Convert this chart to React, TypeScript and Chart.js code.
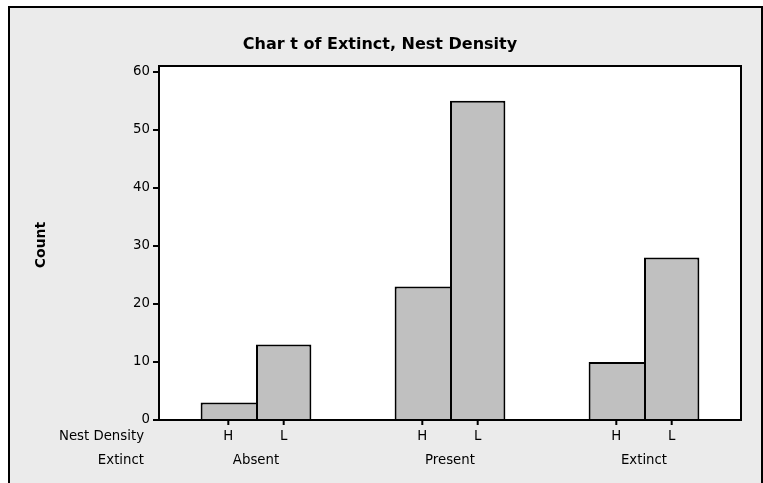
import React, { useEffect, useRef } from "react";
import { Chart, registerables } from "chart.js";

Chart.register(...registerables);

const groups = ["Absent", "Present", "Extinct"];
const densities = ["H", "L"];
const countH = [3, 23, 10];
const countL = [13, 55, 28];
const yTicks = [0, 10, 20, 30, 40, 50, 60];
const titleText = "Char t of Extinct, Nest Density";
const yTitle = "Count";
const rowHeaders = ["Nest Density", "Extinct"];

const FONT = "'DejaVu Sans', Verdana, sans-serif";
const LABEL_SIZE = 13.3;

const decorPlugin = {
  id: "decor",
  beforeDraw(chart: any) {
    const ctx = chart.ctx;
    const { width, height } = chart;
    ctx.save();
    ctx.fillStyle = "#ffffff";
    ctx.fillRect(0, 0, width, height);
    ctx.fillStyle = "#ebebeb";
    ctx.fillRect(9, 7, 753, height);
    ctx.strokeStyle = "#000";
    ctx.lineWidth = 2;
    ctx.beginPath();
    ctx.moveTo(9, height + 2);
    ctx.lineTo(9, 7);
    ctx.lineTo(762, 7);
    ctx.lineTo(762, height + 2);
    ctx.stroke();
    const a = chart.chartArea;
    ctx.fillStyle = "#ffffff";
    ctx.fillRect(a.left, a.top, a.right - a.left, a.bottom - a.top);
    ctx.restore();
  },
  afterDatasetsDraw(chart: any) {
    const ctx = chart.ctx;
    const a = chart.chartArea;
    ctx.save();
    ctx.strokeStyle = "#000";
    ctx.lineWidth = 2;
    ctx.strokeRect(a.left, a.top, a.right - a.left, a.bottom - a.top);
    ctx.restore();
  },
  afterDraw(chart: any) {
    const ctx = chart.ctx;
    const a = chart.chartArea;
    const xScale = chart.scales.x;
    ctx.save();
    ctx.fillStyle = "#000";
    ctx.strokeStyle = "#000";
    ctx.textBaseline = "middle";
    ctx.font = `${LABEL_SIZE}px ${FONT}`;
    ctx.textAlign = "center";
    chart.data.datasets.forEach((ds: any, di: number) => {
      const meta = chart.getDatasetMeta(di);
      meta.data.forEach((bar: any) => {
        ctx.lineWidth = 2;
        ctx.beginPath();
        ctx.moveTo(bar.x, a.bottom + 1);
        ctx.lineTo(bar.x, a.bottom + 5);
        ctx.stroke();
        ctx.fillText(ds.label, bar.x, a.bottom + 17);
      });
    });
    groups.forEach((g, i) => {
      ctx.fillText(g, xScale.getPixelForValue(i), a.bottom + 41);
    });
    ctx.textAlign = "right";
    ctx.fillText(rowHeaders[0], a.left - 15, a.bottom + 17);
    ctx.fillText(rowHeaders[1], a.left - 15, a.bottom + 41);
    ctx.font = `bold 16px ${FONT}`;
    ctx.textAlign = "center";
    ctx.fillText(titleText, 380, 45);
    ctx.font = `bold 14px ${FONT}`;
    ctx.translate(41, 245);
    ctx.rotate(-Math.PI / 2);
    ctx.fillText(yTitle, 0, 0);
    ctx.restore();
  },
};

export default function App() {
  const ref = useRef<HTMLCanvasElement>(null);
  useEffect(() => {
    const chart = new Chart(ref.current!, {
      type: "bar",
      data: {
        labels: groups,
        datasets: [
          {
            label: densities[0],
            data: countH,
            backgroundColor: "#c0c0c0",
            borderColor: "#000",
            borderWidth: (c: any) => {
              const i = c.dataIndex;
              const shared = countL[i] >= countH[i];
              return { top: 2, left: 2, right: shared ? 0 : 2, bottom: 0 };
            },
          },
          {
            label: densities[1],
            data: countL,
            backgroundColor: "#c0c0c0",
            borderColor: "#000",
            borderWidth: (c: any) => {
              const i = c.dataIndex;
              const shared = countL[i] >= countH[i];
              return { top: 2, left: shared ? 2 : 0, right: 2, bottom: 0 };
            },
          },
        ],
      },
      options: {
        animation: false,
        responsive: false,
        layout: { padding: { left: 0, top: 66, right: 22, bottom: 63 } },
        plugins: {
          legend: { display: false },
          title: { display: false },
          tooltip: { enabled: false },
        },
        datasets: {
          bar: { categoryPercentage: 0.571, barPercentage: 1.0 },
        },
        scales: {
          x: {
            display: false,
          },
          y: {
            min: 0,
            max: 61.0,
            afterFit(scale: any) {
              scale.width = 159;
            },
            afterBuildTicks(scale: any) {
              scale.ticks = yTicks.map((v) => ({ value: v }));
            },
            ticks: {
              includeBounds: false,
              color: "#000",
              font: { family: FONT, size: LABEL_SIZE },
              padding: 3,
            },
            grid: {
              drawOnChartArea: false,
              drawTicks: true,
              tickLength: 6,
              color: "#000",
              lineWidth: 2,
            },
            border: { display: true, color: "#000", width: 2 },
          },
        },
      },
      plugins: [decorPlugin],
    } as any);
    return () => chart.destroy();
  }, []);
  return (
    <div style={{ position: "fixed", left: 0, top: 0, width: 763, height: 483 }}>
      <canvas ref={ref} width={763} height={483} style={{ display: "block" }} />
    </div>
  );
}
